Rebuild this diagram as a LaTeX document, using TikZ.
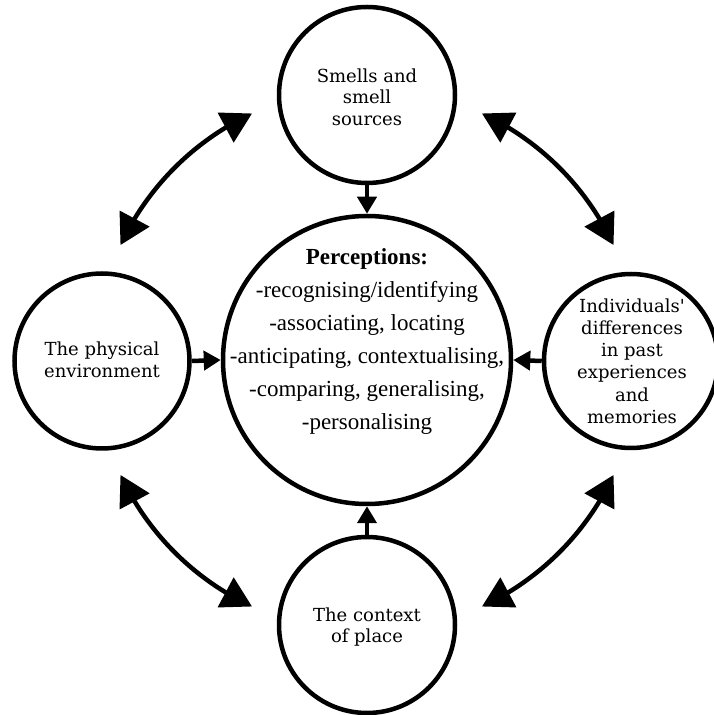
\documentclass[tikz,border=0pt]{standalone}
\usepackage{fontspec}
\setmainfont{Liberation Serif}
\newfontfamily\outerfont{DejaVu Serif}
\usetikzlibrary{arrows.meta,bending,calc}
\begin{document}
\begin{tikzpicture}[x=1pt,y=1pt,
  ring/.style={circle,draw,line width=4.5pt,inner sep=0pt},
  outertext/.style={align=center,inner sep=0pt,font=\outerfont\fontsize{18}{21.5}\selectfont},
  centertext/.style={align=center,inner sep=0pt,font=\fontsize{23}{33}\selectfont},
  straightarrow/.style={line width=4.5pt,-{Triangle[length=17pt,width=19pt]}},
  curvedarrow/.style={line width=4.5pt,{Triangle[length=30pt,width=33pt]}-{Triangle[length=30pt,width=33pt]}}
]
\useasboundingbox (0,0) rectangle (713,715);
% circles
\node[ring,minimum size=288pt] (C) at (367,355) {};
\node[ring,minimum size=176pt] (T) at (367,620) {};
\node[ring,minimum size=175pt] (L) at (102,354) {};
\node[ring,minimum size=174pt] (R) at (631,354) {};
\node[ring,minimum size=176pt] (B) at (367,90) {};
% texts
\node[centertext] (Ct) at (367,373) {\textbf{Perceptions:}\\-recognising/identifying\\-associating, locating\\-anticipating, contextualising,\\-comparing, generalising,\\-personalising};
\node[outertext] (Tt) at (367,618) {Smells and\\smell\\sources};
\node[outertext] (Lt) at (102,355) {The physical\\environment};
\node[outertext,font=\outerfont\fontsize{18}{22.2}\selectfont] (Rt) at (632,354) {Individuals'\\differences\\in past\\experiences\\and\\memories};
\node[outertext] (Bt) at (367,88) {The context\\of place};
% straight arrows
\draw[straightarrow] (T.south) -- (C.north);
\draw[straightarrow] (L.east) -- (C.west);
\draw[straightarrow] (R.west) -- (C.east);
\draw[straightarrow] (B.north) -- (C.south);
% curved double arrows
\coordinate (TRa) at ($(C.center)+(65:272)$);
\coordinate (TLa) at ($(C.center)+(115:272)$);
\coordinate (BLa) at ($(C.center)+(205:272)$);
\coordinate (BRa) at ($(C.center)+(295:272)$);
\draw[curvedarrow] (TRa) arc[start angle=65,end angle=25,radius=272];
\draw[curvedarrow] (TLa) arc[start angle=115,end angle=155,radius=272];
\draw[curvedarrow] (BLa) arc[start angle=205,end angle=245,radius=272];
\draw[curvedarrow] (BRa) arc[start angle=295,end angle=335,radius=272];
\end{tikzpicture}
\end{document}
